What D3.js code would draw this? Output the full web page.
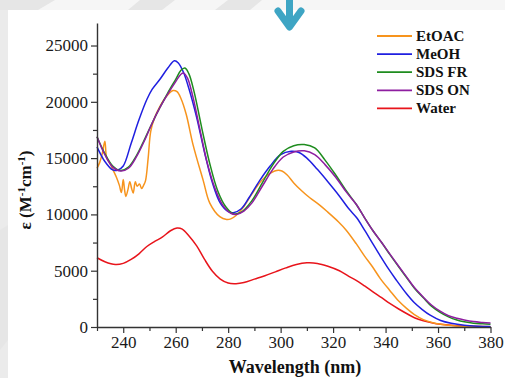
<!DOCTYPE html>
<html><head><meta charset="utf-8">
<script src="https://cdn.jsdelivr.net/npm/d3@7"></script>
<style>body{margin:0;background:#fff;} svg{display:block;}</style>
</head><body><svg id="c" width="505" height="378"></svg>
<script>
// ---- data ----
const seriesNames = ["EtOAC", "MeOH", "SDS FR", "SDS ON", "Water"];
const seriesColors = ["#f7941d", "#1f1fe0", "#1e8c1e", "#8e1ea0", "#e8141b"];

const etoacNm  = [230,231,232,233,233.7,234.8,236,237.4,238.5,239.3,240,240.5,241,241.8,242.5,243.2,243.8,244.6,245.3,246.2,247,247.8,248.5,249.5,250.5,252,254,256.5,259,260.5,262,264,266.6,270.5,273,276.8,279.4,281,283,285.7,289,292,295,298.5,300.5,302.5,305,308,311,315,318,322,325,328.8,332,335,338,341.6,345,348,351,354.4,358,361,365,370,380];
const etoacEps = [14100,14600,15400,16500,15000,14600,14000,13300,12600,11950,13100,12200,11600,12200,12900,12300,11900,12900,12500,12700,12300,12600,13000,15000,17400,18600,19600,20500,21000,20900,20300,18900,16200,13000,11000,9800,9550,9600,9900,10600,11800,12800,13500,13900,13850,13500,12800,12100,11500,10800,10200,9350,8600,7400,6300,5350,4300,3250,2300,1650,1100,650,380,250,130,60,20];

const meohNm  = [230,233,236,238,240,243,246,249,251,254,257,259.5,261,263,265,268,271,274,277,280,282,285,288,292,296,300,304,307,310,314,318,322,326,329,332,335,338,341,344,348,351,354,357,361,365,370,375,380];
const meohEps = [16000,14700,13950,13950,14300,16300,18400,20200,21100,22000,23000,23650,23450,22600,21200,18600,15500,12800,11000,10250,10150,10500,11500,13000,14300,15300,15600,15500,15000,14000,12900,11750,10500,9700,8600,7450,6300,5200,4200,2950,2150,1550,1050,580,330,150,70,40];

const sdsFrNm  = [230,233,236,239,242,245,248,251,254,257,260,262,263.5,265,267,270,273,276,279,282,285,289,293,297,301,305,309,313,317,321,325,328.8,332,335.2,338.5,341.6,345,348,351,354.4,357.5,360.8,364,367.2,370,373.5,377,380];
const sdsFrEps = [16900,15400,14300,13900,14200,15200,16600,18100,19500,20800,22000,22800,23000,22500,20900,17600,14500,12100,10700,10050,10200,11200,12800,14400,15600,16100,16200,15900,14800,13500,12100,10900,9700,8550,7500,6450,5350,4400,3450,2600,1850,1300,900,620,460,330,280,250];

const sdsOnNm  = [230,233,236,239,242,245,248,251,254,257,260,262,263,264.5,266.5,269,272,275,278,281,283,286,289,293,297,301,305,309,313,317,321,325,328.8,332,335.2,338.5,341.6,345,348,351,354.4,357.5,360.8,364,367.2,370,373.5,377,380];
const sdsOnEps = [16900,15300,14200,13850,14100,15100,16500,18100,19500,20700,21800,22450,22550,22100,20500,17800,14600,12300,10800,10100,10000,10300,11000,12500,14000,15100,15550,15650,15300,14400,13300,12000,10900,9700,8550,7500,6500,5400,4450,3500,2650,1950,1400,1000,770,620,480,400,350];

const waterNm  = [230,233,237,240,243,246,249,252,255,258,260.5,262.5,265,268,271,274,277,280,283,286,290,294,298,302,306,310,314,318,322.4,326,328.8,332,335.2,338.5,341.6,345,348,351,354.4,358,361,365,370,380];
const waterEps = [6150,5800,5550,5650,6000,6500,7150,7600,8000,8550,8800,8700,8100,7200,6000,4950,4250,3900,3850,3950,4250,4550,4900,5250,5550,5700,5650,5400,5000,4500,4150,3650,3120,2600,2090,1600,1200,820,550,360,250,150,80,30];

const xMajorTicks = [240,260,280,300,320,340,360,380];
const xMinorTicks = [230,250,270,290,310,330,350,370];
const yMajorTicks = [0,5000,10000,15000,20000,25000];
const yMinorTicks = [2500,7500,12500,17500,22500];

const seriesData = [
  {name: seriesNames[0], color: seriesColors[0], nm: etoacNm, eps: etoacEps},
  {name: seriesNames[1], color: seriesColors[1], nm: meohNm,  eps: meohEps},
  {name: seriesNames[2], color: seriesColors[2], nm: sdsFrNm, eps: sdsFrEps},
  {name: seriesNames[3], color: seriesColors[3], nm: sdsOnNm, eps: sdsOnEps},
  {name: seriesNames[4], color: seriesColors[4], nm: waterNm, eps: waterEps}
];

// ---- drawing ----
const svg = d3.select("#c");
const W = 505, H = 378;
const serif = "Liberation Serif, Times New Roman, serif";

// background watermark
svg.append("rect").attr("x",0).attr("y",0).attr("width",W).attr("height",H).attr("fill","#ffffff");
svg.append("rect").attr("x",0).attr("y",0).attr("width",W).attr("height",10).attr("fill","#f6f6f6");
svg.append("rect").attr("x",0).attr("y",0).attr("width",8).attr("height",H).attr("fill","#ebebeb");
const wm = [
  [[0,0],[55,0],[38,10],[0,10]],
  [[140,0],[175,0],[162,10],[128,10]],
  [[228,0],[262,0],[250,10],[215,10]],
  [[0,230],[8,225],[8,340],[0,350]]
];
wm.forEach(p => svg.append("polygon").attr("points", p.map(d=>d.join(",")).join(" ")).attr("fill","#e6e6e6"));

// teal arrow
svg.append("line").attr("x1",289.5).attr("y1",-4).attr("x2",289.5).attr("y2",24)
  .attr("stroke","#3ea5c4").attr("stroke-width",7).attr("stroke-linecap","round");
svg.append("polyline").attr("points","278,11 289.5,27 301,11").attr("fill","none")
  .attr("stroke","#3ea5c4").attr("stroke-width",7).attr("stroke-linecap","round").attr("stroke-linejoin","round");

const x = d3.scaleLinear().domain([230,380]).range([97,490.5]);
const y = d3.scaleLinear().domain([0,27000]).range([327,23]);

// curves
const line = d3.line().x(d=>x(d[0])).y(d=>y(d[1])).curve(d3.curveCatmullRom.alpha(0.5));
const drawOrder = [4,0,1,2,3];
drawOrder.forEach(i => {
  const s = seriesData[i];
  const pts = s.nm.map((v,k)=>[v, s.eps[k]]);
  svg.append("path").attr("d", line(pts)).attr("fill","none")
    .attr("stroke", s.color).attr("stroke-width",1.5).attr("stroke-linejoin","round");
});

// axes
function styleAxis(g){
  g.attr("font-family", serif).attr("font-size", 17);
  g.selectAll("path.domain").attr("stroke","#333").attr("stroke-width",1.4);
  g.selectAll(".tick line").attr("stroke","#333").attr("stroke-width",1.2);
  g.selectAll(".tick text").attr("fill","#1a1a1a").attr("font-family",serif).attr("font-size",17)
    .style("font-family",serif).style("font-size","17px");
}
const gx = svg.append("g").attr("transform","translate(0,327)")
  .call(d3.axisBottom(x).tickValues(xMajorTicks).tickSize(6).tickSizeOuter(0).tickPadding(3).tickFormat(d3.format("d")));
styleAxis(gx);
const gxm = svg.append("g").attr("transform","translate(0,327)")
  .call(d3.axisBottom(x).tickValues(xMinorTicks).tickSize(4).tickSizeOuter(0).tickFormat(""));
styleAxis(gxm);
gxm.select("path.domain").remove();

const gy = svg.append("g").attr("transform","translate(97,0)")
  .call(d3.axisLeft(y).tickValues(yMajorTicks).tickSize(6).tickSizeOuter(0).tickPadding(3).tickFormat(d3.format("d")));
styleAxis(gy);
const gym = svg.append("g").attr("transform","translate(97,0)")
  .call(d3.axisLeft(y).tickValues(yMinorTicks).tickSize(4).tickSizeOuter(0).tickFormat(""));
styleAxis(gym);
gym.select("path.domain").remove();

// axis titles
svg.append("text").attr("x",295).attr("y",373).attr("text-anchor","middle")
  .attr("font-family",serif).attr("font-size",18).attr("font-weight","bold").attr("fill","#111")
  .text("Wavelength (nm)");

const yt = svg.append("text").attr("transform","translate(31,190) rotate(-90)").attr("text-anchor","middle")
  .attr("font-family",serif).attr("font-size",17).attr("font-weight","bold").attr("fill","#111");
yt.append("tspan").text("ε (M");
yt.append("tspan").attr("dy",-6).attr("font-size",11).text("-1");
yt.append("tspan").attr("dy",6).text("cm");
yt.append("tspan").attr("dy",-6).attr("font-size",11).text("-1");
yt.append("tspan").attr("dy",6).text(")");

// legend
const lg = svg.append("g");
seriesData.forEach((s,i) => {
  const cy = 36 + i*18.1;
  lg.append("line").attr("x1",377).attr("x2",412).attr("y1",cy).attr("y2",cy)
    .attr("stroke",s.color).attr("stroke-width",1.8);
  lg.append("text").attr("x",416).attr("y",cy+5)
    .attr("font-family",serif).attr("font-size",15).attr("font-weight","bold").attr("fill","#111")
    .text(s.name);
});
</script></body></html>
